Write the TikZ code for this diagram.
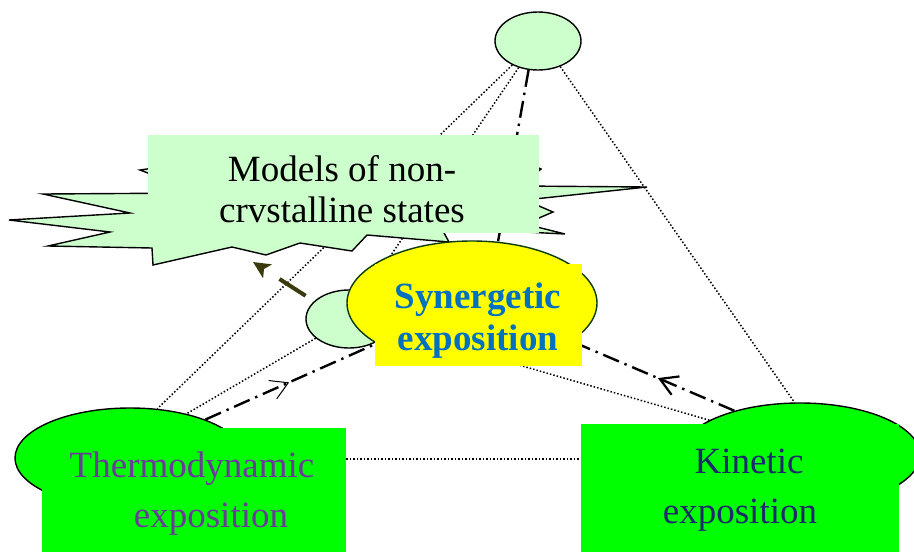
\documentclass[tikz,border=0pt]{standalone}
\usepackage{fontspec}
\setmainfont{Liberation Serif}
\usetikzlibrary{shapes.geometric,arrows.meta,decorations.markings}
\pgfdeclarelayer{links}
\pgfsetlayers{links,main}

\definecolor{mint}{HTML}{CCFFCC}
\definecolor{lime}{HTML}{00FF00}
\definecolor{sunny}{HTML}{FFFF00}
\definecolor{rimgreen}{HTML}{0A3A0A}
\definecolor{synblue}{HTML}{0070C0}
\definecolor{thermoviolet}{HTML}{6A3C9A}
\definecolor{kinnavy}{HTML}{1B2A6B}
\definecolor{olivearrow}{HTML}{3A3A0C}

\tikzset{
  bubble/.style={ellipse, draw=black, line width=1.4pt, fill=mint, inner sep=0pt,
                 minimum width=86pt, minimum height=58pt},
  blob/.style={ellipse, draw=black, line width=1.4pt, fill=lime, inner sep=0pt},
  plate/.style={rectangle, inner sep=0pt, anchor=north west},
  caption/.style={inner sep=0pt, anchor=base, font=\fontsize{37}{42}\selectfont},
  dotline/.style={line width=1.5pt, dash pattern=on 1.5pt off 2pt},
  dashdot/.style={line width=2.4pt, dash pattern=on 17pt off 6pt on 2.4pt off 6pt},
  midarrow/.style 2 args={postaction={decorate, decoration={markings,
      mark=at position #1 with {\arrow{Straight Barb[length=17pt, width=20pt, line width=#2]}}}}},
}

\begin{document}
\begin{tikzpicture}[x=1pt, y=-1pt]
\useasboundingbox (0,0) rectangle (914,552);

% starburst behind the "models" label
\draw[fill=mint, line width=1.4pt]
  (140,170) -- (200,193) -- (43,194) -- (130,213) -- (9,220) -- (110,232)
  -- (48,246) -- (152,248) -- (153,265) -- (232,247) -- (266,255) -- (300,243)
  -- (352,251) -- (367,235) -- (449,242) -- (438,222) -- (505,231) -- (565,234)
  -- (525,224) -- (553,212) -- (525,200) -- (647,187) -- (520,186) -- (541,169)
  -- (520,160) -- (350,140) -- cycle;

\node[plate, fill=mint, minimum width=391pt, minimum height=98pt] (modelsbox) at (148,135) {};
\node[caption] (modelsa) at (342,181) {Models of non-};
\node[caption] (modelsb) at (342,222) {crvstalline states};

% top bubble
\node[bubble] (apex) at (538,41) {};

% thermodynamic block
\node[blob, minimum width=230pt, minimum height=100pt] (thermoshell) at (130,458) {};
\node[plate, fill=lime, minimum width=304pt, minimum height=124pt] (thermobox) at (42,428) {};
\node[caption, text=thermoviolet] (thermoa) at (192,477) {Thermodynamic};
\node[caption, text=thermoviolet] (thermob) at (211,527) {exposition};

% kinetic block
\node[blob, minimum width=240pt, minimum height=104pt] (kinshell) at (800,455) {};
\node[plate, fill=lime, minimum width=318pt, minimum height=128pt] (kinbox) at (581,424) {};
\node[caption, text=kinnavy] (kina) at (749,473) {Kinetic};
\node[caption, text=kinnavy] (kinb) at (740,523) {exposition};

% synergetic block with the small bubble behind it
\node[bubble] (pivot) at (349,319) {};
\node[ellipse, draw=rimgreen, line width=1.4pt, fill=sunny, inner sep=0pt,
      minimum width=250pt, minimum height=124pt] (synshell) at (472,303) {};
\node[plate, fill=sunny, minimum width=207pt, minimum height=102pt] (synbox) at (375,264) {};
\node[caption, text=synblue, font=\fontsize{37}{42}\selectfont\bfseries] (syna) at (478,308) {Synergetic};
\node[caption, text=synblue, font=\fontsize{37}{42}\selectfont\bfseries] (synb) at (478,350) {exposition};

\coordinate (burstdent) at (253,262);

\begin{pgfonlayer}{links}
  \draw[dotline] (apex.223) -- (thermoshell.61);
  \draw[dotline] (apex.234) -- (pivot.58);
  \draw[dashdot] (apex.252) -- (synshell.67);
  \draw[dotline] (apex.311) -- (kinshell.96);
  \draw[dotline] (pivot.210) -- (thermoshell.38);
  \draw[dashdot, midarrow={0.49}{1pt}] (thermoshell.27) -- (synshell.203);
  \draw[dotline] (kinshell.159) -- (synshell.303);
  \draw[dashdot, midarrow={0.47}{2.2pt}] (kinshell.146) -- (synshell.339);
  \draw[dotline] ([yshift=-31pt]thermobox.north east) -- ([yshift=-35pt]kinbox.north west);
  \draw[line width=4pt, draw=olivearrow, dash pattern=on 31pt off 41pt, dash phase=62pt,
        -{Stealth[length=17pt, width=16pt, inset=4pt]}] (pivot.153) -- (burstdent);
\end{pgfonlayer}
\end{tikzpicture}
\end{document}
